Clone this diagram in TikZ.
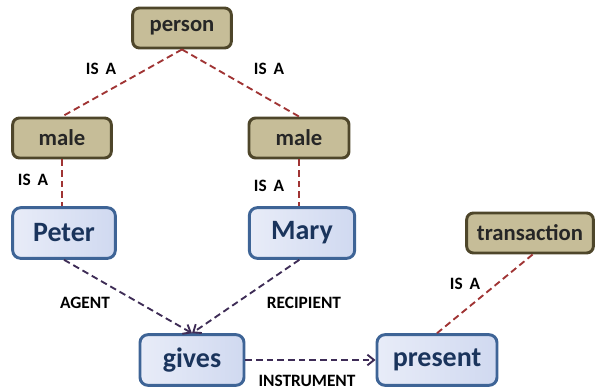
\documentclass[tikz,border=0pt]{standalone}
\usepackage{fontspec}
\setmainfont{Carlito}
\usepackage{xcolor}
\usepackage{tikz}
\usetikzlibrary{positioning,arrows.meta}

\definecolor{tanfill}{RGB}{198,189,152}
\definecolor{tanline}{RGB}{78,70,42}
\definecolor{bluefill}{RGB}{208,217,240}
\definecolor{bluelight}{RGB}{232,236,248}
\definecolor{blueline}{RGB}{62,100,150}
\definecolor{bluetext}{RGB}{26,52,92}
\definecolor{isared}{RGB}{160,52,52}
\definecolor{relpurple}{RGB}{62,44,86}

\begin{document}
\begin{tikzpicture}[x=0.75pt,y=-0.75pt,
					concept/.style={
						draw=tanline, fill=tanfill, line width=2.2pt, rounded corners=5pt,
						minimum height=30pt, font=\fontsize{17}{18}\selectfont\bfseries, text=black!85
					},
					inst/.style={
						draw=blueline, left color=bluelight, right color=bluefill, line width=2.2pt,
						rounded corners=6pt, minimum height=38pt,
						font=\fontsize{21}{22}\selectfont\bfseries, text=bluetext
					},
					isa/.style={
						draw=isared, line width=1.4pt, dash pattern=on 5pt off 3pt
					},
					rel/.style={
						draw=relpurple, line width=1.4pt, dash pattern=on 5pt off 3pt,
						-{Straight Barb[length=5pt,width=8pt]}
					},
					lbl/.style={
						font=\fontsize{13}{14}\selectfont\bfseries, text=black
					}
					]
					\useasboundingbox (0,0) rectangle (595,389);
					
					% concepts
					\node[concept, minimum width=74pt] (person) at (182,28) {person};
					\node[concept, minimum width=74pt] (maleL) at (62,138) {male};
					\node[concept, minimum width=75pt] (maleR) at (299,138) {male};
					\node[concept, minimum width=95pt] (trans) at (530,233) {transaction};
					
					% instances
					\node[inst, minimum width=77pt] (peter) at (64,233) {Peter};
					\node[inst, minimum width=79pt] (mary) at (302,233) {Mary};
					\node[inst, minimum width=78pt] (gives) at (192,360) {gives};
					\node[inst, minimum width=90pt] (present) at (437,360) {present};
					
					% is-a links
					\draw[isa] (person.south) -- (maleL.north);
					\draw[isa] (person.south) -- (maleR.north);
					\draw[isa] (maleL.south) -- (peter.north -| maleL.south);
					\draw[isa] (maleR.south) -- (mary.north -| maleR.south);
					\draw[isa] ([xshift=2pt]trans.south) -- (present.north);
					
					% relations
					\draw[rel] (peter.south) -- (gives.north);
					\draw[rel] ([xshift=-2pt]mary.south) -- (gives.north);
					\draw[rel] (gives.east) -- (present.west);
					
					% labels
					\node[lbl] (l1) at (101,69) {IS\, A};
					\node[lbl] (l2) at (269,69) {IS\, A};
					\node[lbl] (l3) at (33,180) {IS\, A};
					\node[lbl] (l4) at (269,186) {IS\, A};
					\node[lbl] (l5) at (465,284) {IS\, A};
					\node[lbl] (agent) at (85,303) {AGENT};
					\node[lbl] (recip) at (304,303) {RECIPIENT};
					\node[lbl] (instr) at (307,381) {INSTRUMENT};
				\end{tikzpicture}
\end{document}
